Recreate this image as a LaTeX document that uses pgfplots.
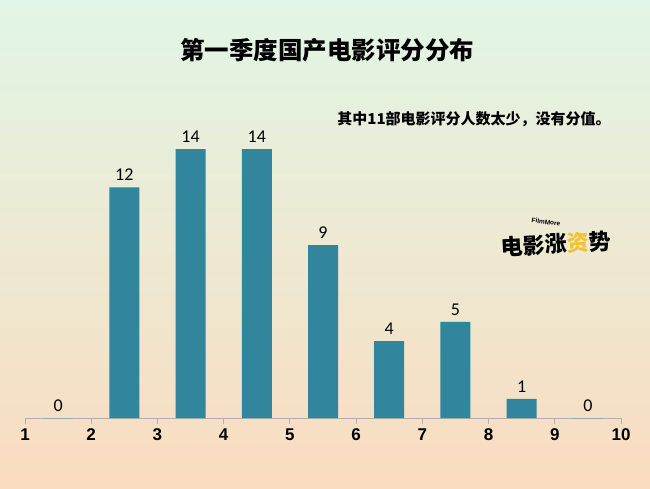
\documentclass[border=0pt]{standalone}
\usepackage{pgfplots}
\pgfplotsset{compat=1.18}
\usepackage{fontspec}
\setmainfont{Liberation Sans}
\newfontfamily\carlito{Carlito}
\newfontfamily\cjk{Noto Sans CJK SC}
\definecolor{bar}{HTML}{31859C}
\definecolor{bgtop}{HTML}{E1F6E6}
\definecolor{bgbot}{HTML}{F9DCBF}
\definecolor{axgray}{HTML}{B0B0B0}
\definecolor{logoy}{HTML}{F2C230}
\begin{document}
\begin{tikzpicture}
\fill[top color=bgtop, bottom color=bgbot] (0,0) rectangle (650pt,488pt);
\node[font=\cjk\bfseries\fontsize{24.5}{25}\selectfont] at (327pt,438pt) {第一季度国产电影评分分布};
\node[font=\cjk\bfseries\fontsize{15}{15}\selectfont] at (474pt,369pt) {其中11部电影评分人数太少，没有分值。};
% logo approximation
\node[font=\cjk\bfseries\fontsize{22}{22}\selectfont, inner sep=0pt, rotate=3] at (556pt,244pt) {电影涨\textcolor{logoy}{资}势};
\node[font=\bfseries\fontsize{6.5}{6.5}\selectfont, inner sep=0pt, rotate=-8] at (546pt,266pt) {FilmMore};
\begin{axis}[
  at={(25pt,70pt)}, anchor=south west,
  scale only axis, width=596pt, height=269pt,
  xmin=1, xmax=10, ymin=0, ymax=14,
  axis y line=none, axis x line*=bottom,
  x axis line style={axgray, line width=0.8pt, -},
  xtick={1,...,10},
  tick align=outside, major tick length=6pt,
  xtick style={axgray, line width=0.8pt},
  /pgf/number format/assume math mode=true,
  xticklabel style={font=\bfseries\fontsize{17}{17}\selectfont, yshift=-1pt},
  ybar, bar width=30pt,
  clip=false,
  nodes near coords,
  every node near coord/.append style={font=\carlito\fontsize{18}{18}\selectfont, black, yshift=3pt},
]
\addplot[fill=bar, draw=none] coordinates {
(1.5,0) (2.5,12) (3.5,14) (4.5,14) (5.5,9) (6.5,4) (7.5,5) (8.5,1) (9.5,0)};
\end{axis}
\end{tikzpicture}
\end{document}
